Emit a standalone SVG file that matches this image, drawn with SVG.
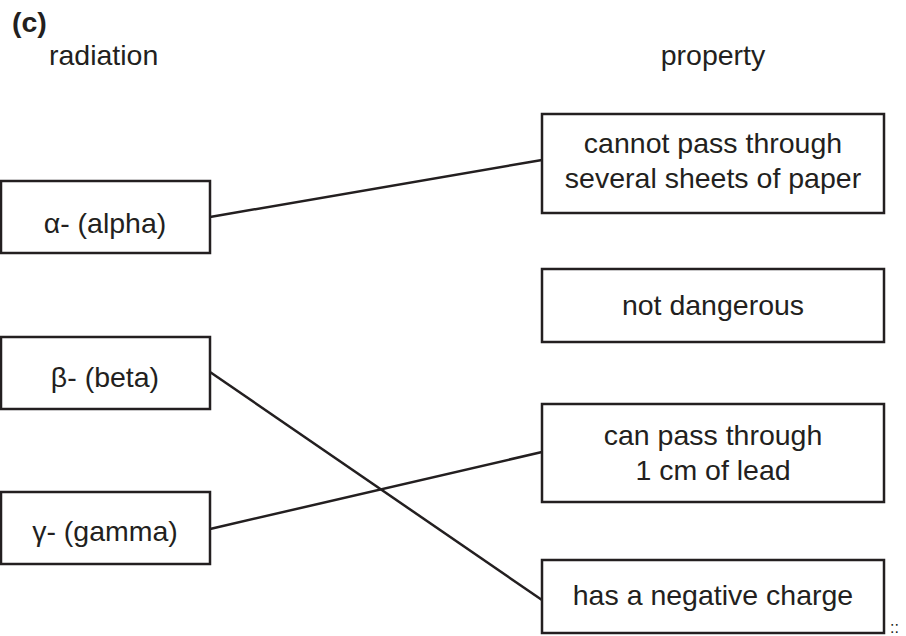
<svg xmlns="http://www.w3.org/2000/svg" width="906" height="636" viewBox="0 0 906 636">
<style>
.box{fill:#fff;stroke:#231f20;stroke-width:2.5}
.t{font-family:"Liberation Sans",Arial,sans-serif;font-size:28.5px;fill:#231f20;text-anchor:middle}
.h{font-family:"Liberation Sans",Arial,sans-serif;font-size:28.5px;fill:#231f20}
.ln{stroke:#231f20;stroke-width:2.5;fill:none}
</style>
<rect width="906" height="636" fill="#fff"/>
<text class="h" x="12" y="32" font-weight="bold" font-size="26">(c)</text>
<text class="h" x="49" y="65">radiation</text>
<text class="t" x="713" y="65">property</text>
<g id="connectors">
<line class="ln" x1="210" y1="217" x2="542" y2="160"/>
<line class="ln" x1="210" y1="372" x2="542" y2="600"/>
<line class="ln" x1="210" y1="529" x2="542" y2="452"/>
</g>
<g id="alpha"><rect class="box" x="1" y="181" width="209" height="72"/><text class="t" x="105" y="233">α- (alpha)</text></g>
<g id="beta"><rect class="box" x="1" y="337" width="209" height="72"/><text class="t" x="105" y="387">β- (beta)</text></g>
<g id="gamma"><rect class="box" x="1" y="492" width="209" height="72"/><text class="t" x="105" y="541">γ- (gamma)</text></g>
<g id="p1"><rect class="box" x="542" y="114" width="342" height="99"/><text class="t" x="713" y="153">cannot pass through</text><text class="t" x="713" y="188">several sheets of paper</text></g>
<g id="p2"><rect class="box" x="542" y="269" width="342" height="73"/><text class="t" x="713" y="315">not dangerous</text></g>
<g id="p3"><rect class="box" x="542" y="404" width="342" height="98"/><text class="t" x="713" y="445">can pass through</text><text class="t" x="713" y="480">1 cm of lead</text></g>
<g id="p4"><rect class="box" x="542" y="560" width="342" height="73"/><text class="t" x="713" y="605">has a negative charge</text></g>
<text x="890" y="633" font-family="Liberation Sans,sans-serif" font-size="16" fill="#231f20">::</text>
</svg>
